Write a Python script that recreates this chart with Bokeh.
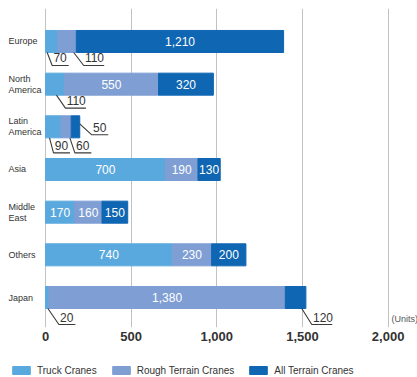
from bokeh.plotting import figure
from bokeh.layouts import column
from bokeh.models import ColumnDataSource, FixedTicker, NumeralTickFormatter, Range1d, Legend, LegendItem
from bokeh.embed import file_html
from bokeh.resources import INLINE
from bokeh.core.properties import value

# ---------------- data ----------------
categories = ["Europe", "North\nAmerica", "Latin\nAmerica", "Asia", "Middle\nEast", "Others", "Japan"]
series_names = ["Truck Cranes", "Rough Terrain Cranes", "All Terrain Cranes"]
truck = [70, 110, 90, 700, 170, 740, 20]
rough = [110, 550, 60, 190, 160, 230, 1380]
all_terrain = [1210, 320, 50, 130, 150, 200, 120]
x_ticks = [0, 500, 1000, 1500, 2000]
unit_label = "(Units)"

# ---------------- styles / layout ----------------
colors = ["#5AA9DE", "#7E9ED4", "#0F66B2"]
FONT = "Liberation Sans"
W, H = 417, 377
H1 = 347                        # main chart height; legend strip below
X0PX = 45                       # pixel where value 0 sits
FT, FB = 8, 20                  # frame top / bottom borders
SX = 171.3 / 1000               # px per x unit
XSTART = -X0PX / SX
XEND = (W - X0PX) / SX
YBOT, YTOP = -0.703, 6.773
BAR_H = 0.516
SY = (H1 - FT - FB) / (YTOP - YBOT)

# outside-label leader specs: (category index, series index): (anchor fraction, side, dx px, dy px)
outside = {
    (0, 0): (0.14, "bottom", 5, 13),
    (0, 1): (0.86, "bottom", 10, 13),
    (1, 0): (0.58, "bottom", 9, 13),
    (2, 0): (0.26, "bottom", 4, 15),
    (2, 1): (0.87, "bottom", 5, 15),
    (2, 2): (1.00, "right", 12, 11),
    (6, 0): (0.70, "bottom", 11, 16),
    (6, 2): (0.80, "bottom", 10, 16),
}

n = len(categories)
ys = [n - 1 - i for i in range(n)]
src = ColumnDataSource(dict(y=ys, truck=truck, rough=rough, allt=all_terrain))

p = figure(width=W, height=H1, x_range=Range1d(XSTART, XEND), y_range=Range1d(YBOT, YTOP),
           output_backend="svg", toolbar_location=None, y_axis_location=None,
           min_border_left=0, min_border_right=0, min_border_top=FT, min_border_bottom=FB)
p.outline_line_color = None
p.background_fill_color = "white"
p.border_fill_color = "white"

p.xaxis.ticker = FixedTicker(ticks=x_ticks)
p.xaxis.formatter = NumeralTickFormatter(format="0,0")
p.xaxis.axis_line_color = None
p.xaxis.major_tick_line_color = None
p.xaxis.minor_tick_line_color = None
p.xaxis.major_tick_out = 0
p.xaxis.major_tick_in = 0
p.xaxis.major_label_standoff = 4
p.xaxis.major_label_text_font = FONT
p.xaxis.major_label_text_font_size = "13px"
p.xaxis.major_label_text_font_style = "bold"
p.xaxis.major_label_text_color = "#333333"
p.xgrid.grid_line_color = "#c2c2c2"
p.xgrid.grid_line_width = 1
p.ygrid.visible = False

rs = p.hbar_stack(["truck", "rough", "allt"], y="y", height=BAR_H, color=colors, source=src)

# value labels
vals = [truck, rough, all_terrain]
in_x, in_y, in_t = [], [], []
out_x, out_y, out_t = [], [], []
lx, ly = [], []
for i in range(n):
    start = 0
    for s in range(3):
        v = vals[s][i]
        end = start + v
        txt = f"{v:,}"
        if (i, s) in outside:
            frac, side, dx, dy = outside[(i, s)]
            if side == "bottom":
                ax = start + frac * v
                ay = ys[i] - BAR_H / 2
            else:
                ax = end
                ay = ys[i] + 3 / SY
            ex = ax + dx / SX
            ey = ay - dy / SY
            ulen = 4 * len(txt) + 8.5
            lx.append([ax, ex, ex + ulen / SX])
            ly.append([ay, ey, ey])
            out_x.append(ex + 1.2 / SX)
            out_y.append(ey + 3 / SY)
            out_t.append(txt)
        else:
            in_x.append((start + end) / 2)
            in_y.append(ys[i])
            in_t.append(txt)
        start = end

p.text(in_x, in_y, text=in_t, text_color="white", text_font=value(FONT),
       text_font_size="12px", text_align="center", text_baseline="middle")
p.multi_line(lx, ly, line_color="#3a3a3a", line_width=1.1)
p.text(out_x, out_y, text=out_t, text_color="#333333", text_font=value(FONT),
       text_font_size="12px", text_align="left", text_baseline="bottom")

# category labels (left-aligned, left of zero)
p.text([XSTART + 8 / SX] * n, ys, text=categories, text_color="#333333",
       text_font=value(FONT), text_font_size="9px", text_align="left",
       text_baseline="middle", text_line_height=1.1)

# units
p.text([XSTART + 391 / SX], [YBOT + 9 / SY], text=[unit_label], text_color="#555555",
       text_font=value(FONT), text_font_size="9px", text_align="left", text_baseline="middle")

# ---------------- legend strip ----------------
H2 = H - H1
p2 = figure(width=W, height=H2, x_range=Range1d(0, 1), y_range=Range1d(0, 1),
            output_backend="svg", toolbar_location=None, x_axis_location=None,
            y_axis_location=None, min_border=0)
p2.outline_line_color = None
p2.xgrid.visible = False
p2.ygrid.visible = False
# legend-only renderers, placed outside the visible range
dummies = [p2.hbar(y=[-10], right=[1], height=1, color=c) for c in colors]
legend = Legend(items=[LegendItem(label=series_names[k], renderers=[dummies[k]]) for k in range(3)],
                orientation="horizontal", location=(10, 1), padding=0, margin=0,
                spacing=13, glyph_width=22, glyph_height=10, label_height=12,
                label_standoff=5, label_text_font=FONT, label_text_font_size="10px",
                label_text_color="#333333", border_line_color=None, background_fill_alpha=0)
p2.add_layout(legend, "center")

layout = column(p, p2, spacing=0)
open("out.html", "w").write(file_html(layout, INLINE))
